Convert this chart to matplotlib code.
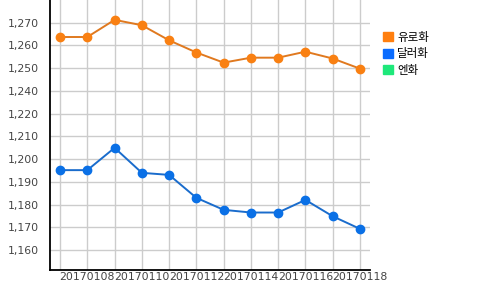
import numpy as np
import matplotlib
matplotlib.use("Agg")
import matplotlib.pyplot as plt
from matplotlib.patches import Patch

# data
dates = ["20170107", "20170108", "20170109", "20170110", "20170111", "20170112",
         "20170113", "20170114", "20170115", "20170116", "20170117", "20170118"]
euro = [1263.1, 1263.1, 1271.4, 1268.8, 1261.5, 1255.6,
        1250.7, 1253.1, 1253.1, 1256.0, 1252.7, 1247.8]
dollar = [1198.7, 1198.7, 1209.5, 1197.4, 1196.4, 1185.3,
          1179.5, 1178.2, 1178.2, 1184.3, 1176.4, 1170.3]
series_names = ["유로화", "달러화", "엔화"]
ytick_vals = [1160, 1171, 1182, 1193, 1204, 1215, 1226, 1237, 1248, 1259, 1270]
ytick_labels = ["1,160", "1,170", "1,180", "1,190", "1,200", "1,210",
                "1,220", "1,240", "1,250", "1,260", "1,270"]

fig = plt.figure(figsize=(5, 2.9), dpi=100)
ax = fig.add_axes([0.1, 0.07, 0.64, 0.93])

x = np.arange(len(dates))
ax.plot(x, euro, color="#e0791f", lw=1.4, marker="o", ms=6,
        mfc="#f98012", mec="#f98012", zorder=3)
ax.plot(x, dollar, color="#1a6ccc", lw=1.4, marker="o", ms=6,
        mfc="#0a70e6", mec="#0a70e6", zorder=3)

ax.set_xlim(-0.37, 11.37)
ax.set_ylim(1160 - 0.86 * 11, 1281)
ax.set_xticks(x[1::2])
ax.set_xticklabels(dates[1::2])
ax.set_xticks(x, minor=True)
ax.set_yticks(ytick_vals)
ax.set_yticklabels(ytick_labels)

ax.grid(True, which="both", axis="x", color="#cccccc", lw=1)
ax.grid(True, axis="y", color="#cccccc", lw=1)
ax.set_axisbelow(True)
ax.tick_params(which="both", length=0, labelsize=7.8, labelcolor="#444444")
ax.tick_params(axis="y", pad=8)
ax.tick_params(axis="x", pad=2)
for s in ["top", "right"]:
    ax.spines[s].set_visible(False)
for s in ["left", "bottom"]:
    ax.spines[s].set_color("black")
    ax.spines[s].set_linewidth(1.3)

handles = [Patch(color=c) for c in ["#ff7f0f", "#0a6cff", "#1ee87a"]]
leg = fig.legend(handles, series_names, loc="upper left", bbox_to_anchor=(0.745, 0.93),
                 frameon=False, handlelength=0.85, handleheight=0.85, handletextpad=0.4,
                 labelspacing=0.3, prop={"family": ["Noto Sans CJK KR", "DejaVu Sans"], "size": 8.3})

fig.savefig("out.png", dpi=100)
